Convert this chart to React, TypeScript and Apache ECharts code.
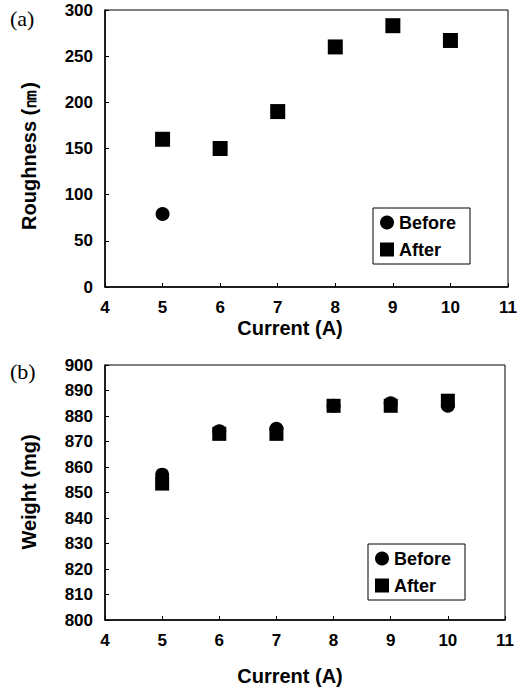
import React, { useEffect, useRef } from "react";
import * as echarts from "echarts";

const currents = [5, 6, 7, 8, 9, 10];
const roughnessBeforeCurrents = [5];
const roughnessBefore = [79];
const roughnessAfter = [160, 150, 190, 260, 283, 267];
const weightBefore = [857, 874, 875, 884, 885, 884];
const weightAfter = [853.5, 873, 873, 884, 884, 886];
const seriesNames = ["Before", "After"];

const FONT = "Liberation Sans, Arial, sans-serif";

export default function App() {
  const ref = useRef<HTMLDivElement>(null);
  useEffect(() => {
    if (!ref.current) return;
    const chart = echarts.init(ref.current, undefined, { renderer: "svg" });
    const xAxisCommon = (gridIndex: number) => ({
      type: "value",
      gridIndex,
      min: 4,
      max: 11,
      interval: 1,
      axisLine: { show: true, lineStyle: { color: "#000", width: 1.5 } },
      axisTick: { show: true, inside: true, length: 4, lineStyle: { color: "#000" } },
      axisLabel: { color: "#000", fontFamily: FONT, fontWeight: "bold", fontSize: 17, margin: 12 },
      splitLine: { show: false },
    });
    const yAxisCommon = (gridIndex: number, min: number, max: number, interval: number) => ({
      type: "value",
      gridIndex,
      min,
      max,
      interval,
      axisLine: { show: true, lineStyle: { color: "#000", width: 1.5 } },
      axisTick: { show: true, inside: true, length: 4, lineStyle: { color: "#000" } },
      axisLabel: { color: "#000", fontFamily: FONT, fontWeight: "bold", fontSize: 17, margin: 12 },
      splitLine: { show: false },
    });
    const legendCommon = (left: number, top: number) => ({
      orient: "vertical",
      left,
      top,
      data: seriesNames,
      borderColor: "#000",
      borderWidth: 1,
      backgroundColor: "#fff",
      padding: [4, 14, 4, 7],
      itemGap: 6,
      itemWidth: 14,
      itemHeight: 14,
      itemTextGap: 3,
      selectedMode: false,
      itemStyle: { color: "#000", opacity: 1 },
      textStyle: { color: "#000", fontFamily: FONT, fontWeight: "bold", fontSize: 18, lineHeight: 21 },
    });
    const titleText = (x: number, y: number, text: string, rot = 0) => ({
      type: "text",
      x,
      y,
      rotation: rot,
      style: {
        text,
        fill: "#000",
        font: `bold 20px ${FONT}`,
        align: "center",
        verticalAlign: "middle",
      },
    });
    const mark = { color: "#000", opacity: 1 };
    chart.setOption({
      animation: false,
      backgroundColor: "#fff",
      grid: [
        { left: 105, top: 10, width: 403, height: 277, show: true, borderColor: "#000", borderWidth: 1 },
        { left: 105, top: 365, width: 400, height: 255, show: true, borderColor: "#000", borderWidth: 1 },
      ],
      xAxis: [xAxisCommon(0), xAxisCommon(1)],
      yAxis: [yAxisCommon(0, 0, 300, 50), yAxisCommon(1, 800, 900, 10)],
      legend: [legendCommon(373, 208), legendCommon(368, 544)],
      series: [
        {
          name: "After",
          type: "scatter",
          xAxisIndex: 0,
          yAxisIndex: 0,
          symbol: "rect",
          symbolSize: 15,
          itemStyle: mark,
          data: currents.map((c, i) => [c, roughnessAfter[i]]),
        },
        {
          name: "Before",
          type: "scatter",
          xAxisIndex: 0,
          yAxisIndex: 0,
          symbol: "circle",
          symbolSize: 14,
          itemStyle: mark,
          data: roughnessBeforeCurrents.map((c, i) => [c, roughnessBefore[i]]),
        },
        {
          name: "After",
          type: "scatter",
          xAxisIndex: 1,
          yAxisIndex: 1,
          symbol: "rect",
          symbolSize: 14,
          itemStyle: mark,
          data: currents.map((c, i) => [c, weightAfter[i]]),
        },
        {
          name: "Before",
          type: "scatter",
          xAxisIndex: 1,
          yAxisIndex: 1,
          symbol: "circle",
          symbolSize: 14,
          itemStyle: mark,
          data: currents.map((c, i) => [c, weightBefore[i]]),
        },
      ],
      graphic: [
        {
          type: "text",
          x: 10,
          y: 18,
          style: { text: "(a)", fill: "#000", font: "22px Liberation Serif, serif", verticalAlign: "middle" },
        },
        {
          type: "text",
          x: 10,
          y: 371,
          style: { text: "(b)", fill: "#000", font: "22px Liberation Serif, serif", verticalAlign: "middle" },
        },
        titleText(29, 156, "Roughness (㎚)", Math.PI / 2),
        titleText(29, 492, "Weight (mg)", Math.PI / 2),
        titleText(290, 328, "Current (A)"),
        titleText(290, 676, "Current (A)"),
      ],
    });
    return () => chart.dispose();
  }, []);
  return (
    <div
      ref={ref}
      style={{ position: "absolute", left: 0, top: 0, width: 523, height: 689 }}
    />
  );
}
